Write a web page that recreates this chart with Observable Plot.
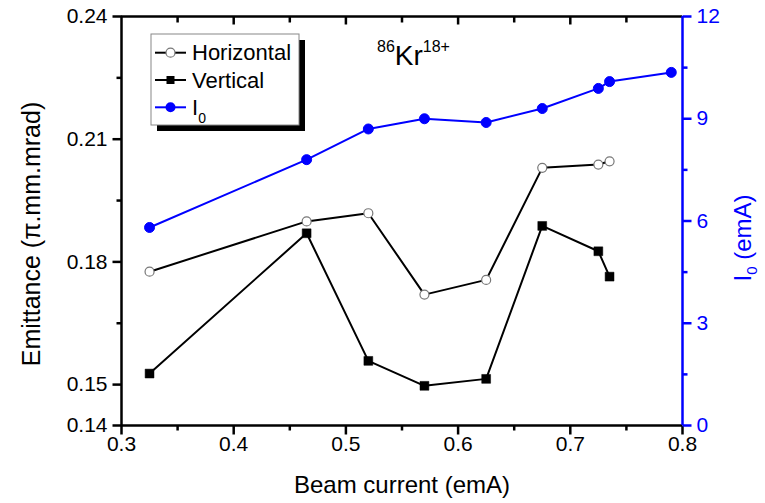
<!DOCTYPE html>
<html><head><meta charset="utf-8">
<script src="https://cdn.jsdelivr.net/npm/d3@7"></script>
<script src="https://cdn.jsdelivr.net/npm/@observablehq/plot@0.6"></script>
<style>
body{margin:0;background:#fff;}
#wrap{position:relative;width:765px;height:503px;font-family:'Liberation Sans',Arial,sans-serif;color:#000;}
.ov{position:absolute;white-space:nowrap;line-height:1;}
</style></head><body><div id="wrap"></div>
<script>
// ---- data ----
const beamEm = [0.325, 0.465, 0.52, 0.57, 0.625, 0.675, 0.725, 0.735];
const horizontal = [0.1776, 0.1899, 0.1919, 0.1720, 0.1756, 0.2030, 0.2038, 0.2046];
const vertical = [0.1527, 0.1870, 0.1558, 0.1497, 0.1514, 0.1888, 0.1826, 0.1764];
const beamI0 = [0.325, 0.465, 0.52, 0.57, 0.625, 0.675, 0.725, 0.735, 0.79];
const i0 = [5.81, 7.80, 8.70, 9.00, 8.89, 9.30, 9.89, 10.09, 10.36];

const xMajor = [0.3, 0.4, 0.5, 0.6, 0.7, 0.8];
const xMinor = [0.35, 0.45, 0.55, 0.65, 0.75];
const yMajor = [0.14, 0.15, 0.18, 0.21, 0.24];
const yMinor = [0.165, 0.195, 0.225];
const iMajor = [0, 3, 6, 9, 12];
const iMinor = [1.5, 4.5, 7.5, 10.5];

const xDomain = [0.3, 0.8];
const yDomain = [0.14, 0.24];
const iDomain = [0, 12];
// map I0 (right axis) onto the emittance (left) scale
const toY = v => yDomain[0] + (v - iDomain[0]) * (yDomain[1] - yDomain[0]) / (iDomain[1] - iDomain[0]);
const fromY = y => iDomain[0] + (y - yDomain[0]) * (iDomain[1] - iDomain[0]) / (yDomain[1] - yDomain[0]);

const hData = beamEm.map((x, i) => ({x, y: horizontal[i]}));
const vData = beamEm.map((x, i) => ({x, y: vertical[i]}));
const iData = beamI0.map((x, i) => ({x, y: toY(i0[i])}));

const BLUE = "#0000ff";
const MAJ = 9, MIN = 5, TW = 2.5;

// tick glyphs: a custom symbol drawing a short segment from the anchor point
const seg = (dx, dy) => ({draw(ctx) { ctx.moveTo(0, 0); ctx.lineTo(dx, dy); }});
const tickDots = (vals, axis, at, dx, dy, color) =>
  Plot.dot(vals, axis === "x"
    ? {x: d => d, y: () => at, symbol: seg(dx, dy), stroke: color, strokeWidth: TW}
    : {y: d => d, x: () => at, symbol: seg(dx, dy), stroke: color, strokeWidth: TW});

const chart = Plot.plot({
  width: 765, height: 503,
  marginLeft: 121, marginRight: 83, marginTop: 16, marginBottom: 78,
  x: {domain: xDomain},
  y: {domain: yDomain},
  style: {fontFamily: "'Liberation Sans', Arial, sans-serif", fontSize: "21px", background: "white", overflow: "visible"},
  marks: [
    Plot.axisX(xMajor, {tickSize: 9, tickPadding: 2, stroke: "none", tickFormat: d3.format(".1f"), label: null}),
    Plot.axisY(yMajor, {tickSize: 9, tickPadding: 5, stroke: "none", tickFormat: d3.format(".2f"), label: null}),
    Plot.axisY(iMajor.map(toY), {anchor: "right", fill: BLUE, stroke: "none", tickSize: 9, tickPadding: 5, tickFormat: d => String(Math.round(fromY(d))), label: null}),
    tickDots(xMajor, "x", yDomain[0], 0, MAJ, "black"),
    tickDots(xMinor, "x", yDomain[0], 0, MIN, "black"),
    tickDots(xMajor.slice(1, -1), "x", yDomain[1], 0, MAJ - 1, "black"),
    tickDots(xMinor, "x", yDomain[1], 0, MIN + 1, "black"),
    tickDots(yMajor, "y", xDomain[0], -MAJ, 0, "black"),
    tickDots(yMinor, "y", xDomain[0], -MIN, 0, "black"),
    tickDots(iMajor.map(toY), "y", xDomain[1], MAJ, 0, BLUE),
    tickDots(iMinor.map(toY), "y", xDomain[1], MIN, 0, BLUE),
    Plot.ruleY([yDomain[0], yDomain[1]], {stroke: "black", strokeWidth: 2.5}),
    Plot.ruleX([xDomain[0]], {stroke: "black", strokeWidth: 2.5}),
    Plot.ruleX([xDomain[1]], {stroke: BLUE, strokeWidth: 2.5}),
    Plot.line(iData, {x: "x", y: "y", stroke: BLUE, strokeWidth: 2}),
    Plot.line(hData, {x: "x", y: "y", stroke: "black", strokeWidth: 2}),
    Plot.line(vData, {x: "x", y: "y", stroke: "black", strokeWidth: 2}),
    Plot.dot(iData, {x: "x", y: "y", r: 5, fill: BLUE, stroke: BLUE, strokeWidth: 1}),
    Plot.dot(hData, {x: "x", y: "y", r: 4.5, fill: "white", stroke: "#777", strokeWidth: 1.2}),
    Plot.dot(vData, {x: "x", y: "y", r: 5, symbol: "square", fill: "black", stroke: "black", strokeWidth: 0.5})
  ]
});

const wrap = document.getElementById("wrap");
chart.style.position = "absolute";
chart.style.left = "0px";
chart.style.top = "0px";
wrap.appendChild(chart);

// legend
const legendItems = [
  {label: "Horizontal", color: "black", symbol: "open"},
  {label: "Vertical", color: "black", symbol: "square"},
  {label: "I", sub: "0", color: BLUE, symbol: "dot"}
];
const NS = "http://www.w3.org/2000/svg";
const lg = document.createElementNS(NS, "svg");
lg.setAttribute("width", 160); lg.setAttribute("height", 104);
lg.style.position = "absolute"; lg.style.left = "150px"; lg.style.top = "33px";
let html = `<rect x="7" y="7" width="148" height="91" fill="black"/>
<rect x="1" y="1" width="148" height="91" fill="white" stroke="#888" stroke-width="1"/>`;
legendItems.forEach((it, i) => {
  const cy = 19.7 + i * 27.3;
  html += `<line x1="5" x2="36" y1="${cy}" y2="${cy}" stroke="${it.color}" stroke-width="2"/>`;
  if (it.symbol === "open") html += `<circle cx="20.5" cy="${cy}" r="4.5" fill="white" stroke="#777" stroke-width="1.2"/>`;
  if (it.symbol === "square") html += `<rect x="16.5" y="${cy - 4}" width="8" height="8" fill="black"/>`;
  if (it.symbol === "dot") html += `<circle cx="20.5" cy="${cy}" r="5" fill="${BLUE}"/>`;
  html += `<text x="42" y="${cy + 7.5}" font-family="'Liberation Sans', Arial, sans-serif" font-size="22" fill="black">${it.label}${it.sub ? `<tspan font-size="14" dy="8">${it.sub}</tspan>` : ""}</text>`;
});
lg.innerHTML = html;
wrap.appendChild(lg);

// annotation 86Kr18+
const ann = document.createElementNS(NS, "svg");
ann.setAttribute("width", 120); ann.setAttribute("height", 50);
ann.style.position = "absolute"; ann.style.left = "370px"; ann.style.top = "30px";
ann.innerHTML = `<text x="7" y="35" font-family="'Liberation Sans', Arial, sans-serif" fill="black"><tspan font-size="16" dy="-13">86</tspan><tspan font-size="28" dy="13">Kr</tspan><tspan font-size="16" dy="-13">18+</tspan></text>`;
wrap.appendChild(ann);

// axis titles
function addDiv(htmlText, cx, cy, rot, color, size) {
  const d = document.createElement("div");
  d.className = "ov";
  d.innerHTML = htmlText;
  d.style.fontSize = size + "px";
  d.style.color = color;
  d.style.left = cx + "px";
  d.style.top = cy + "px";
  d.style.transform = `translate(-50%,-50%)` + (rot ? ` rotate(${rot}deg)` : "");
  wrap.appendChild(d);
}
addDiv("Beam current (emA)", 402, 485, 0, "black", 24);
addDiv("Emittance (π.mm.mrad)", 31, 234, -90, "black", 25);
addDiv('I<sub style="font-size:15px;vertical-align:-6px">0</sub> (emA)', 745, 238, -90, BLUE, 24);
</script></body></html>
